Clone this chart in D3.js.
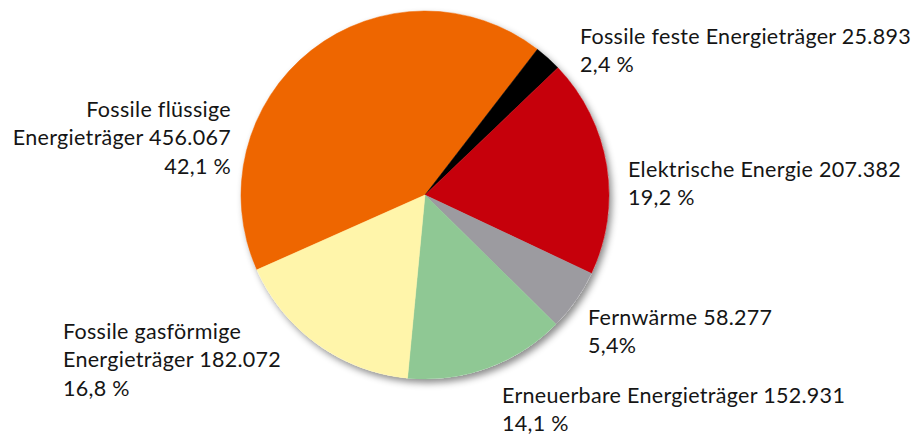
<!DOCTYPE html>
<html>
<head>
<meta charset="utf-8">
<script src="https://cdn.jsdelivr.net/npm/d3@7"></script>
<style>
  html, body { margin: 0; padding: 0; background: #fff; }
  svg { display: block; }
  text { font-family: Lato, "Open Sans", sans-serif; fill: #151515; }
</style>
</head>
<body>
<svg id="chart" width="915" height="436"></svg>
<script>
// ---- data ----
const categories = [
  "Fossile flüssige Energieträger",
  "Fossile feste Energieträger",
  "Elektrische Energie",
  "Fernwärme",
  "Erneuerbare Energieträger",
  "Fossile gasförmige Energieträger"
];
const values = [456.067, 25.893, 207.382, 58.277, 152.931, 182.072];
const valueLabels = ["456.067", "25.893", "207.382", "58.277", "152.931", "182.072"];
const percentLabels = ["42,1 %", "2,4 %", "19,2 %", "5,4%", "14,1 %", "16,8 %"];
const colors = ["#ee6600", "#000000", "#c6000b", "#9c9ba0", "#8fc894", "#fff5aa"];

// ---- layout (label text lines and anchors) ----
const labelLayout = [
  { lines: ["Fossile flüssige", "Energieträger " + valueLabels[0], percentLabels[0]], x: 231, y: 117, anchor: "end" },
  { lines: [categories[1] + " " + valueLabels[1], percentLabels[1]], x: 580, y: 44, anchor: "start" },
  { lines: [categories[2] + " " + valueLabels[2], percentLabels[2]], x: 628, y: 177, anchor: "start" },
  { lines: [categories[3] + " " + valueLabels[3], percentLabels[3]], x: 588, y: 325, anchor: "start" },
  { lines: [categories[4] + " " + valueLabels[4], percentLabels[4]], x: 502, y: 403, anchor: "start" },
  { lines: ["Fossile gasförmige", "Energieträger " + valueLabels[5], percentLabels[5]], x: 63, y: 339, anchor: "start" }
];

const svg = d3.select("#chart");
const cx = 425, cy = 195, R = 184;

const defs = svg.append("defs");
const f = defs.append("filter").attr("id", "shadow")
  .attr("x", "-20%").attr("y", "-20%").attr("width", "140%").attr("height", "140%");
f.append("feDropShadow")
  .attr("dx", 3).attr("dy", 4).attr("stdDeviation", 3.5)
  .attr("flood-color", "#000").attr("flood-opacity", 0.45);

const pie = d3.pie().sort(null).value(d => d)
  .startAngle(-114 * Math.PI / 180)
  .endAngle((360 - 114) * Math.PI / 180);
const arc = d3.arc().innerRadius(0).outerRadius(R);

const g = svg.append("g").attr("transform", `translate(${cx},${cy})`);
const arcs = pie(values);

// shadow base
g.append("circle").attr("r", R).attr("fill", "#fff").attr("filter", "url(#shadow)");

g.selectAll("path.slice").data(arcs).join("path")
  .attr("class", "slice")
  .attr("d", arc)
  .attr("fill", (d, i) => colors[i])
  .attr("stroke", (d, i) => colors[i])
  .attr("stroke-width", 0.5);

const lineH = 28.3;
const labels = svg.append("g").selectAll("text").data(labelLayout).join("text")
  .attr("text-anchor", d => d.anchor)
  .attr("font-size", 21.5)
  .attr("letter-spacing", 0.3);
labels.each(function(d) {
  const t = d3.select(this);
  d.lines.forEach((ln, k) => {
    t.append("tspan").attr("x", d.x).attr("y", d.y + k * lineH).text(ln);
  });
});
</script>
</body>
</html>
